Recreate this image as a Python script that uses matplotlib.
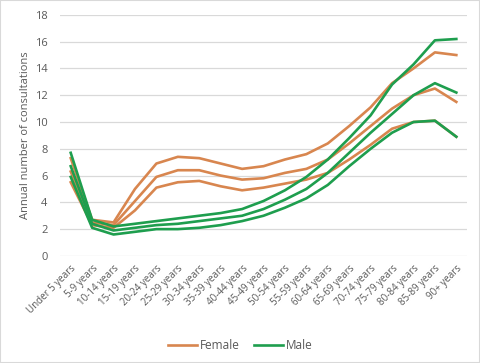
import matplotlib
matplotlib.use("Agg")
import matplotlib.pyplot as plt
from matplotlib.patches import Rectangle

age_groups = ["Under 5 years", "5-9 years", "10-14 years", "15-19 years", "20-24 years",
              "25-29 years", "30-34 years", "35-39 years", "40-44 years", "45-49 years",
              "50-54 years", "55-59 years", "60-64 years", "65-69 years", "70-74 years",
              "75-79 years", "80-84 years", "85-89 years", "90+ years"]

# female: upper / middle / lower
female_hi = [7.3, 2.7, 2.5, 5.0, 6.9, 7.4, 7.3, 6.9, 6.5, 6.7, 7.2, 7.6, 8.4, 9.7, 11.1, 12.9, 14.0, 15.2, 15.0]
female_mid = [6.3, 2.5, 2.3, 4.1, 5.9, 6.4, 6.4, 6.0, 5.7, 5.8, 6.2, 6.5, 7.2, 8.4, 9.7, 11.0, 12.0, 12.5, 11.5]
female_lo = [5.5, 2.3, 2.1, 3.4, 5.1, 5.5, 5.6, 5.2, 4.9, 5.1, 5.4, 5.7, 6.2, 7.2, 8.3, 9.5, 10.0, 10.1, 8.9]

# male: upper / middle / lower
male_hi = [7.7, 2.7, 2.2, 2.4, 2.6, 2.8, 3.0, 3.2, 3.5, 4.1, 4.9, 5.9, 7.2, 8.8, 10.5, 12.8, 14.3, 16.1, 16.2]
male_mid = [6.7, 2.4, 1.9, 2.1, 2.3, 2.4, 2.6, 2.8, 3.0, 3.5, 4.2, 5.0, 6.2, 7.7, 9.2, 10.6, 12.0, 12.9, 12.2]
male_lo = [5.9, 2.1, 1.6, 1.8, 2.0, 2.0, 2.1, 2.3, 2.6, 3.0, 3.6, 4.3, 5.3, 6.7, 8.0, 9.2, 10.0, 10.1, 8.9]

orange = "#D8864F"
green = "#1E9E4E"
grey = "#595959"

plt.rcParams['font.family'] = ['Open Sans', 'DejaVu Sans']

fig = plt.figure(figsize=(4.8, 3.63), dpi=100)
ax = fig.add_axes([0.125, 0.295, 0.848, 0.664])

x = range(len(age_groups))
for i, vals in enumerate([female_hi, female_mid, female_lo]):
    ax.plot(x, vals, color=orange, lw=1.9, label="Female" if i == 0 else None)
for i, vals in enumerate([male_hi, male_mid, male_lo]):
    ax.plot(x, vals, color=green, lw=1.9, label="Male" if i == 0 else None)

ax.set_xlim(-0.5, len(age_groups) - 0.5)
ax.set_ylim(0, 18)
ax.set_yticks(range(0, 19, 2))
ax.set_xticks(list(x))
ax.set_xticklabels(age_groups, rotation=45, ha="right", rotation_mode="anchor", fontsize=7, color=grey)
ax.tick_params(axis="y", labelsize=8, colors=grey, length=0, pad=9)
ax.tick_params(axis="x", length=0, pad=5)
ax.grid(axis="y", color="#D9D9D9", lw=0.9)
ax.set_axisbelow(True)
for s in ax.spines.values():
    s.set_visible(False)
ax.set_ylabel("Annual number of consultations", fontsize=8, color=grey, labelpad=3)

fig.legend(loc="lower center", bbox_to_anchor=(0.5, 0.0), ncol=2, frameon=False,
           fontsize=8.5, labelcolor=grey, handlelength=2.5, handletextpad=0.2, columnspacing=1.2)

fig.patches.append(Rectangle((0, 0), 1, 1, transform=fig.transFigure, fill=False,
                             edgecolor="#D9D9D9", lw=1.5))

fig.savefig("out.png", dpi=100)
